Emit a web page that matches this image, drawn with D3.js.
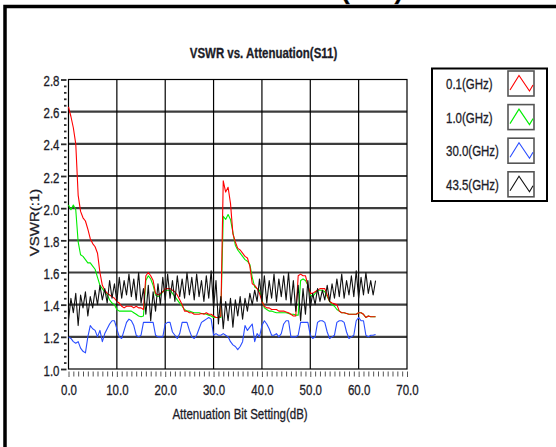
<!DOCTYPE html>
<html>
<head>
<meta charset="utf-8">
<script src="https://cdn.jsdelivr.net/npm/d3@7"></script>
<style>
  html, body { margin: 0; padding: 0; background: #fff; }
  svg { display: block; }
  text { font-family: "Liberation Sans", Arial, sans-serif; fill: #1c1c28; stroke: #1c1c28; stroke-width: 0.3; }
</style>
</head>
<body>
<svg id="chart"></svg>
<script>
// attenuation bit settings (dB)
const attenuation = [
  0, 0.5, 1, 1.5, 2, 2.5, 3, 3.5, 4, 4.5, 5, 5.5, 6, 6.5, 7, 7.5,
  8, 8.5, 9, 9.5, 10, 10.5, 11, 11.5, 12, 12.5, 13, 13.5, 14, 14.5, 15, 15.5,
  16, 16.5, 17, 17.5, 18, 18.5, 19, 19.5, 20, 20.5, 21, 21.5, 22, 22.5, 23, 23.5,
  24, 24.5, 25, 25.5, 26, 26.5, 27, 27.5, 28, 28.5, 29, 29.5, 30, 30.5, 31, 31.5,
  32, 32.5, 33, 33.5, 34, 34.5, 35, 35.5, 36, 36.5, 37, 37.5, 38, 38.5, 39, 39.5,
  40, 40.5, 41, 41.5, 42, 42.5, 43, 43.5, 44, 44.5, 45, 45.5, 46, 46.5, 47, 47.5,
  48, 48.5, 49, 49.5, 50, 50.5, 51, 51.5, 52, 52.5, 53, 53.5, 54, 54.5, 55, 55.5,
  56, 56.5, 57, 57.5, 58, 58.5, 59, 59.5, 60, 60.5, 61, 61.5, 62, 62.5, 63, 63.5
];

const vswr01 = [
  2.63, 2.57, 2.50, 2.40, 2.08, 1.98, 1.94, 1.92, 1.87, 1.81, 1.78, 1.76, 1.72, 1.60, 1.52, 1.49,
  1.47, 1.46, 1.45, 1.44, 1.42, 1.41, 1.39, 1.38, 1.39, 1.39, 1.39, 1.38, 1.39, 1.38, 1.38, 1.37,
  1.58, 1.60, 1.58, 1.55, 1.47, 1.46, 1.47, 1.48, 1.50, 1.50, 1.50, 1.49, 1.48, 1.46, 1.43, 1.40,
  1.36, 1.36, 1.35, 1.35, 1.34, 1.34, 1.34, 1.345, 1.34, 1.35, 1.34, 1.34, 1.33, 1.32, 1.32, 1.33,
  2.17, 2.10, 2.13, 2.03, 1.84, 1.79, 1.75, 1.74, 1.72, 1.70, 1.69, 1.64, 1.53, 1.52, 1.50, 1.47,
  1.42, 1.39, 1.38, 1.38, 1.37, 1.37, 1.37, 1.36, 1.36, 1.36, 1.355, 1.35, 1.34, 1.33, 1.33, 1.58,
  1.59, 1.58, 1.58, 1.52, 1.47, 1.47, 1.48, 1.49, 1.50, 1.50, 1.50, 1.46, 1.42, 1.41, 1.405, 1.40,
  1.36, 1.35, 1.35, 1.345, 1.34, 1.34, 1.34, 1.34, 1.35, 1.35, 1.34, 1.32, 1.33, 1.325, 1.325, 1.325
];

const vswr10 = [
  2.02, 1.99, 2.02, 1.99, 1.79, 1.71, 1.70, 1.68, 1.66, 1.66, 1.64, 1.62, 1.57, 1.52, 1.50, 1.48,
  1.46, 1.43, 1.41, 1.40, 1.37, 1.36, 1.36, 1.36, 1.36, 1.36, 1.36, 1.35, 1.34, 1.33, 1.325, 1.33,
  1.55, 1.58, 1.56, 1.52, 1.46, 1.45, 1.46, 1.48, 1.49, 1.49, 1.49, 1.47, 1.45, 1.43, 1.41, 1.39,
  1.37, 1.36, 1.36, 1.355, 1.35, 1.35, 1.35, 1.345, 1.345, 1.34, 1.335, 1.33, 1.32, 1.32, 1.32, 1.32,
  1.95, 1.93, 1.96, 1.93, 1.85, 1.77, 1.74, 1.72, 1.70, 1.68, 1.67, 1.65, 1.57, 1.51, 1.50, 1.49,
  1.43, 1.38, 1.37, 1.36, 1.36, 1.355, 1.35, 1.35, 1.35, 1.35, 1.35, 1.345, 1.34, 1.34, 1.335, 1.335,
  1.55, 1.56, 1.55, 1.52, 1.46, 1.45, 1.47, 1.49, 1.49, 1.49, 1.48, 1.45, 1.42, 1.40, 1.39, 1.37,
  1.36, 1.35, 1.35, 1.345, 1.34, 1.34, 1.34, 1.34, 1.35, 1.35, 1.34, 1.32, 1.33, 1.325, 1.325, 1.325
];

const vswr300 = [
  1.20, 1.19, 1.17, 1.16, 1.17, 1.13, 1.11, 1.10, 1.20, 1.27, 1.25, 1.24, 1.20, 1.24, 1.17, 1.22,
  1.25, 1.28, 1.30, 1.30, 1.25, 1.20, 1.19, 1.24, 1.29, 1.31, 1.30, 1.27, 1.21, 1.20, 1.21, 1.29,
  1.29, 1.29, 1.29, 1.29, 1.21, 1.20, 1.20, 1.20, 1.28, 1.29, 1.29, 1.23, 1.21, 1.19, 1.22, 1.29,
  1.29, 1.29, 1.24, 1.20, 1.19, 1.21, 1.25, 1.29, 1.30, 1.31, 1.32, 1.31, 1.21, 1.22, 1.21, 1.21,
  1.22, 1.21, 1.20, 1.17, 1.15, 1.14, 1.12, 1.14, 1.17, 1.27, 1.24, 1.26, 1.28, 1.17, 1.22, 1.20,
  1.27, 1.30, 1.28, 1.25, 1.21, 1.21, 1.22, 1.20, 1.22, 1.28, 1.30, 1.30, 1.20, 1.20, 1.20, 1.21,
  1.29, 1.29, 1.29, 1.29, 1.21, 1.19, 1.20, 1.29, 1.30, 1.30, 1.29, 1.23, 1.19, 1.20, 1.21, 1.29,
  1.30, 1.30, 1.29, 1.23, 1.19, 1.20, 1.21, 1.30, 1.32, 1.30, 1.30, 1.21, 1.20, 1.21, 1.21, 1.215
];

const vswr435 = [
  1.30, 1.44, 1.35, 1.47, 1.27, 1.46, 1.38, 1.48, 1.33, 1.45, 1.38, 1.49, 1.40, 1.52, 1.43, 1.50,
  1.41, 1.55, 1.44, 1.53, 1.42, 1.57, 1.44, 1.55, 1.46, 1.59, 1.45, 1.56, 1.43, 1.60, 1.41, 1.50,
  1.34, 1.52, 1.30, 1.48, 1.36, 1.53, 1.40, 1.57, 1.43, 1.59, 1.44, 1.55, 1.42, 1.58, 1.45, 1.56,
  1.44, 1.60, 1.46, 1.57, 1.43, 1.59, 1.45, 1.55, 1.42, 1.58, 1.44, 1.61, 1.38, 1.55, 1.28, 1.45,
  1.25, 1.42, 1.30, 1.44, 1.26, 1.43, 1.33, 1.45, 1.31, 1.44, 1.36, 1.47, 1.40, 1.49, 1.42, 1.56,
  1.42, 1.58, 1.41, 1.55, 1.44, 1.59, 1.42, 1.56, 1.45, 1.58, 1.43, 1.60, 1.40, 1.55, 1.36, 1.52,
  1.30, 1.50, 1.34, 1.55, 1.38, 1.47, 1.40, 1.50, 1.42, 1.49, 1.43, 1.52, 1.42, 1.53, 1.44, 1.56,
  1.45, 1.59, 1.44, 1.55, 1.46, 1.58, 1.45, 1.61, 1.44, 1.57, 1.46, 1.60, 1.47, 1.55, 1.46, 1.55
];

const seriesNames = ["0.1(GHz)", "1.0(GHz)", "30.0(GHz)", "43.5(GHz)"];
const seriesValues = [vswr01, vswr10, vswr300, vswr435];
const seriesColors = ["#ff0000", "#00ee00", "#2a4dff", "#111111"];
const drawOrder = [1, 0, 2, 3];

const xTickLabels = ["0.0", "10.0", "20.0", "30.0", "40.0", "50.0", "60.0", "70.0"];
const yTickLabels = ["1.0", "1.2", "1.4", "1.6", "1.8", "2.0", "2.2", "2.4", "2.6", "2.8"];

const width = 556;
const height = 447;
const squeeze = 0.82; // the reference text is narrow

const svg = d3.select("#chart").attr("width", width).attr("height", height);

const x = d3.scaleLinear().domain([0, 70]).range([68.5, 407]);
const y = d3.scaleLinear().domain([1.0, 2.8]).range([369, 79.5]);

const xMajor = xTickLabels.map(Number);
const yMajor = yTickLabels.map(Number);

// outer frame and the heading above it, which the frame cuts off
svg.append("text")
	.attr("x", 341)
	.attr("y", -1)
	.attr("font-size", 26)
	.attr("font-weight", "bold")
	.style("fill", "#000")
	.text("(S11)");

svg.append("path")
	.attr("d", `M5,${height} V6.5 H${width}`)
	.attr("fill", "none")
	.attr("stroke", "#000")
	.attr("stroke-width", 3.5);

// title
svg.append("text")
	.attr("transform", `translate(263.5,57.5) scale(${squeeze},1)`)
	.attr("text-anchor", "middle")
	.attr("font-size", 14)
	.attr("font-weight", "bold")
	.text("VSWR vs. Attenuation(S11)");

// grid
const grid = svg.append("g");

grid.selectAll("line.hgrid")
	.data(yMajor.slice(1, -1))
	.enter()
	.append("line")
	.attr("class", "hgrid")
	.attr("x1", x(0))
	.attr("x2", x(70))
	.attr("y1", (d) => y(d))
	.attr("y2", (d) => y(d))
	.attr("stroke", "#3c3c3c")
	.attr("stroke-width", 2.2);

grid.selectAll("line.vgrid")
	.data(xMajor.slice(1, -1))
	.enter()
	.append("line")
	.attr("class", "vgrid")
	.attr("x1", (d) => x(d))
	.attr("x2", (d) => x(d))
	.attr("y1", y(2.8))
	.attr("y2", y(1.0))
	.attr("stroke", "#000")
	.attr("stroke-width", 1.2);

grid.append("rect")
	.attr("x", x(0))
	.attr("y", y(2.8))
	.attr("width", x(70) - x(0))
	.attr("height", y(1.0) - y(2.8))
	.attr("fill", "none")
	.attr("stroke", "#000")
	.attr("stroke-width", 1.2);

// y axis
const yMinor = d3.range(1.0, 2.8001, 0.04).filter((v) => Math.abs(v * 5 - Math.round(v * 5)) > 0.01);

const yAxisMinor = svg.append("g")
	.attr("transform", "translate(66.5,0)")
	.call(d3.axisLeft(y).tickValues(yMinor).tickSize(2.5).tickFormat(""));

const yAxis = svg.append("g")
	.attr("transform", "translate(66.5,0)")
	.call(d3.axisLeft(y).tickValues(yMajor).tickSize(5.5).tickFormat(d3.format(".1f")));

[yAxis, yAxisMinor].forEach((g) => {
	g.select(".domain").remove();
	g.selectAll("line").attr("stroke", "#2a2a2a").attr("stroke-width", 1.8);
});

yAxis.selectAll("text")
	.attr("x", null)
	.attr("dy", null)
	.attr("transform", `translate(-7,6) scale(${squeeze},1)`)
	.attr("font-size", 14)
	.attr("font-family", null)
	.style("fill", "#1c1c28");

// x axis
const xMinor = d3.range(0, 71, 1).filter((v) => v % 10 !== 0);

const xAxisMinor = svg.append("g")
	.attr("transform", `translate(0,${y(1.0) + 2.5})`)
	.call(d3.axisBottom(x).tickValues(xMinor).tickSize(5).tickFormat(""));

const xAxis = svg.append("g")
	.attr("transform", `translate(0,${y(1.0) + 2.5})`)
	.call(d3.axisBottom(x).tickValues(xMajor).tickSize(5.5).tickFormat((d, i) => xTickLabels[ i ]));

[xAxis, xAxisMinor].forEach((g) => {
	g.select(".domain").remove();
	g.selectAll("line").attr("stroke", "#555").attr("stroke-width", 1);
});

xAxis.selectAll("text")
	.attr("y", null)
	.attr("dy", null)
	.attr("transform", `translate(0,23) scale(${squeeze},1)`)
	.attr("font-size", 14)
	.attr("font-family", null)
	.style("fill", "#1c1c28");

// axis titles
svg.append("text")
	.attr("transform", `translate(240,418.5) scale(${squeeze},1)`)
	.attr("text-anchor", "middle")
	.attr("font-size", 14)
	.text("Attenuation Bit Setting(dB)");

svg.append("text")
	.attr("transform", "translate(38.5,222.5) scale(0.9,1) rotate(-90)")
	.attr("text-anchor", "middle")
	.attr("font-size", 15)
	.text("VSWR(:1)");

// series
const line = d3.line()
	.x((d) => x(d.x))
	.y((d) => y(d.v));

const plot = svg.append("g");

drawOrder.forEach((s) => {
	const pts = attenuation.map((a, i) => ({ x: a, v: seriesValues[ s ][ i ] }));
	plot.append("path")
		.datum(pts)
		.attr("d", line)
		.attr("fill", "none")
		.attr("stroke", seriesColors[ s ])
		.attr("stroke-width", 1.1)
		.attr("stroke-linejoin", "round");
});

// legend
const legend = svg.append("g");

legend.append("rect")
	.attr("x", 432)
	.attr("y", 68.5)
	.attr("width", 115)
	.attr("height", 132.5)
	.attr("fill", "#fff")
	.attr("stroke", "#000")
	.attr("stroke-width", 2);

const swatchZig = [[2, 19], [11, 4.5], [21.5, 20], [25, 14]];
const zigLine = d3.line();

const rows = legend.selectAll("g.row")
	.data(seriesNames)
	.enter()
	.append("g")
	.attr("class", "row")
	.attr("transform", (d, i) => `translate(0,${71 + i * 33.6})`);

rows.append("text")
	.attr("transform", `translate(446,18) scale(${squeeze},1)`)
	.attr("font-size", 14)
	.text((d) => d);

rows.append("rect")
	.attr("x", 508)
	.attr("y", 0)
	.attr("width", 26)
	.attr("height", 25)
	.attr("fill", "#fff")
	.attr("stroke", "#555")
	.attr("stroke-width", 1.6);

rows.append("path")
	.attr("transform", "translate(508,0)")
	.attr("d", zigLine(swatchZig))
	.attr("fill", "none")
	.attr("stroke", (d, i) => seriesColors[ i ])
	.attr("stroke-width", 1.1);
</script>
</body>
</html>
